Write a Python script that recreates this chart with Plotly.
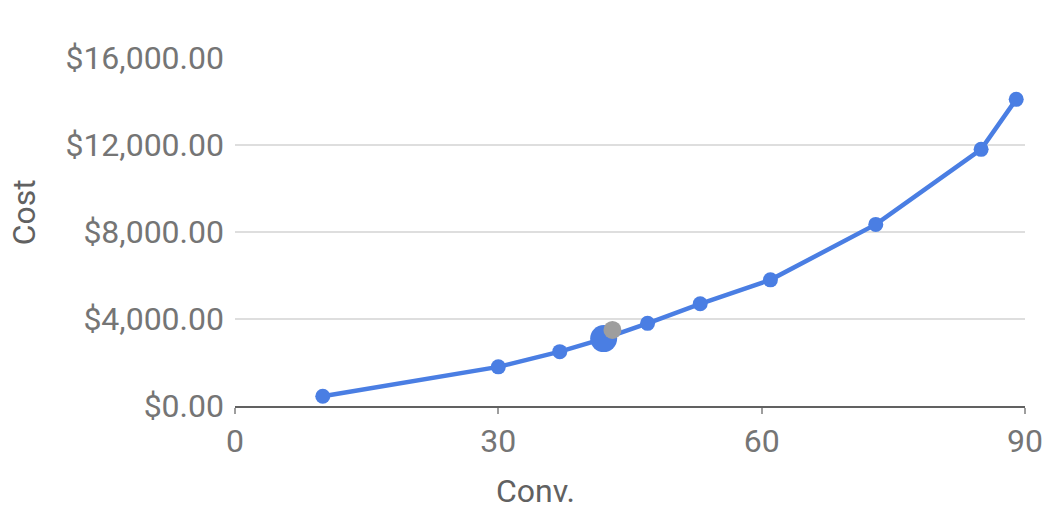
import plotly.graph_objects as go

# Data
conv = [10, 30, 37, 42, 47, 53, 61, 73, 85, 89]
cost = [450, 1800, 2500, 3100, 3800, 4700, 5800, 8350, 11800, 14100]

highlight_conv = [42]
highlight_cost = [3100]

gray_conv = [43]
gray_cost = [3500]

x_ticks = [0, 30, 60, 90]
y_ticks = [0, 4000, 8000, 12000, 16000]
y_tick_labels = ["$0.00", "$4,000.00", "$8,000.00", "$12,000.00", "$16,000.00"]

BLUE = "#4a7ee3"
GRAY = "#9e9e9e"
TEXT = "#757575"
FS = 32

fig = go.Figure()
fig.add_trace(go.Scatter(
    x=conv, y=cost, mode="lines+markers",
    line=dict(color=BLUE, width=4.5),
    marker=dict(color=BLUE, size=15),
    hoverinfo="skip", showlegend=False, cliponaxis=False,
))
fig.add_trace(go.Scatter(
    x=highlight_conv, y=highlight_cost, mode="markers",
    marker=dict(color=BLUE, size=27),
    hoverinfo="skip", showlegend=False, cliponaxis=False,
))
fig.add_trace(go.Scatter(
    x=gray_conv, y=gray_cost, mode="markers",
    marker=dict(color=GRAY, size=18),
    hoverinfo="skip", showlegend=False, cliponaxis=False,
))

fig.update_layout(
    width=1062, height=522,
    margin=dict(l=227, r=45, t=50, b=124),
    paper_bgcolor="white", plot_bgcolor="white",
    font=dict(family="Roboto", size=FS, color=TEXT),
    xaxis=dict(
        range=[0, 90], tickvals=x_ticks, ticktext=[str(v) for v in x_ticks],
        showgrid=False, zeroline=False,
        showline=True, linecolor="#616161", linewidth=2,
        ticks="outside", ticklen=6, tickwidth=2, tickcolor="#9e9e9e",
        tickfont=dict(size=FS, color=TEXT),
    ),
    yaxis=dict(
        range=[0, 16000], tickvals=y_ticks, ticktext=y_tick_labels,
        showgrid=True, gridcolor="#dedede", gridwidth=2,
        zeroline=False, showline=False, ticks="",
        ticklabelstandoff=10,
        tickfont=dict(size=FS, color=TEXT),
    ),
    annotations=[
        dict(text="Conv.", xref="paper", yref="paper", x=0.381, y=-0.243,
             xanchor="center", yanchor="middle", showarrow=False,
             font=dict(family="Roboto", size=FS, color="#616161")),
        dict(text="Cost", xref="paper", yref="paper", x=-0.267, y=0.557,
             xanchor="center", yanchor="middle", showarrow=False, textangle=-90,
             font=dict(family="Roboto", size=FS, color="#616161")),
    ],
)

fig.write_html("out.html")
